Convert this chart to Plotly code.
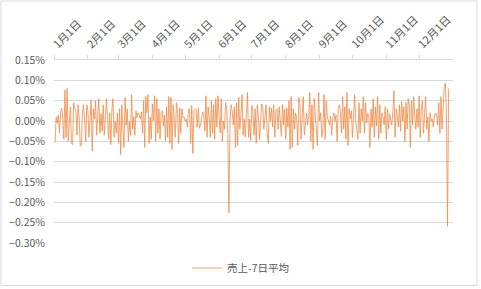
import pandas as pd
import plotly.graph_objects as go

# Daily deviation of sales from the 7-day average (in %), one list per month
jan = [-0.052, 0.010, -0.005, 0.015, -0.030, 0.020, 0.032, 0.005, -0.045, 0.076,
       -0.040, 0.080, -0.050, 0.000, 0.035, -0.055, -0.058, 0.045, 0.030, 0.028,
       -0.035, 0.040, 0.010, -0.062, -0.060, 0.020, 0.040, 0.005, -0.050, 0.040]
feb = [0.025, -0.040, 0.010, 0.052, -0.074, 0.030, 0.005, 0.050, -0.035, 0.012,
       0.055, -0.030, 0.018, -0.025, 0.040, -0.035, 0.010, 0.055, 0.005, -0.045,
       0.020, -0.058, 0.030, 0.055, -0.040, 0.000, -0.030, 0.020]
mar = [-0.055, 0.030, -0.082, 0.040, -0.020, -0.065, 0.058, -0.010, 0.030, -0.050,
       0.000, -0.035, 0.065, -0.020, 0.010, -0.035, 0.025, 0.008, 0.020, 0.015,
       0.005, 0.022, -0.030, 0.050, -0.065, 0.060, 0.020, 0.065, -0.055, 0.010, -0.045]
apr = [0.042, 0.000, 0.062, -0.050, 0.055, -0.030, 0.030, -0.045, 0.020, 0.025,
       -0.012, 0.015, -0.050, 0.035, -0.040, 0.060, -0.055, 0.058, -0.070, 0.040,
       0.005, -0.040, 0.045, 0.020, -0.055, 0.032, -0.030, 0.030, 0.008, 0.010]
may = [0.000, 0.005, -0.015, 0.028, 0.030, -0.055, 0.038, -0.080, 0.025, 0.030,
       0.028, -0.015, 0.032, -0.018, -0.010, 0.010, 0.022, 0.015, -0.025, 0.062,
       -0.040, 0.035, 0.010, -0.040, 0.050, -0.030, 0.040, -0.045, 0.055, -0.015, 0.062]
jun = [0.010, -0.030, 0.055, -0.050, 0.000, -0.020, 0.045, 0.030, -0.035, -0.226,
       0.000, 0.040, 0.025, -0.010, 0.035, -0.065, 0.045, -0.060, 0.058, -0.020,
       0.015, 0.065, -0.035, 0.005, -0.040, 0.035, 0.070, -0.040, 0.005, -0.048]
jul = [0.038, 0.020, -0.035, 0.030, -0.055, 0.040, 0.010, -0.045, 0.005, 0.042,
       0.035, -0.020, 0.010, 0.040, -0.030, -0.055, 0.035, 0.000, 0.032, -0.015,
       0.040, -0.040, 0.025, 0.030, -0.020, 0.035, 0.000, -0.038, 0.040, -0.010, 0.030]
aug = [-0.045, 0.032, -0.015, 0.050, -0.070, 0.060, -0.065, 0.030, -0.020, 0.020,
       0.008, -0.060, 0.058, 0.040, -0.045, 0.010, 0.060, -0.035, 0.005, 0.020,
       -0.010, 0.010, 0.070, -0.050, 0.040, -0.070, 0.055, 0.010, -0.030, -0.060, 0.070]
sep = [0.000, 0.020, -0.040, -0.020, 0.065, -0.045, 0.050, 0.010, 0.000, -0.010,
       0.012, -0.035, 0.008, 0.020, 0.000, 0.015, -0.050, 0.030, 0.040, 0.020,
       -0.030, 0.060, -0.020, 0.035, -0.045, 0.070, -0.060, 0.030, 0.005, 0.025]
oct_ = [-0.040, 0.015, 0.065, 0.000, -0.020, -0.045, 0.045, -0.030, 0.030, 0.000,
        0.060, -0.030, 0.045, -0.005, 0.018, 0.012, -0.065, 0.030, -0.015, 0.055,
        -0.040, 0.035, -0.012, 0.060, -0.045, 0.040, -0.030, 0.020, 0.010, -0.010, 0.035]
nov = [-0.045, 0.030, -0.020, 0.018, 0.005, -0.010, 0.025, 0.075, -0.040, 0.030,
       0.012, -0.015, 0.040, -0.025, 0.048, 0.000, 0.035, -0.050, 0.045, -0.020,
       0.055, 0.040, -0.065, 0.050, -0.010, 0.060, 0.015, -0.020, 0.030, -0.015]
dec = [0.062, -0.040, 0.030, 0.050, -0.030, 0.015, 0.060, -0.020, 0.010, -0.050,
       0.020, 0.000, 0.005, -0.015, 0.012, 0.020, 0.015, -0.010, 0.045, -0.030,
       0.060, -0.020, 0.040, 0.085, 0.093, 0.020, -0.259, 0.080]

months = [jan, feb, mar, apr, may, jun, jul, aug, sep, oct_, nov, dec]
first_day = [2, 1, 1, 1, 1, 1, 1, 1, 1, 1, 1, 1]
year = 2023

dates, values = [], []
for m, (vals, d0) in enumerate(zip(months, first_day), start=1):
    for i, v in enumerate(vals):
        dates.append(pd.Timestamp(year, m, d0 + i))
        values.append(v)

tick_dates = [pd.Timestamp(year, m, 1) for m in range(1, 13)]
tick_labels = [f"{m}月1日" for m in range(1, 13)]

FONT = "Noto Sans CJK JP"
GRAY = "#595959"
GRID = "#d9d9d9"

fig = go.Figure()
fig.add_trace(go.Scatter(
    x=dates, y=values, mode="lines", name="売上-7日平均",
    line=dict(color="#F08A48", width=0.8),
))

L, R, T, B = 54, 28, 60, 46
W, H = 481, 289
pw, ph = W - L - R, H - T - B

def px_x(p):
    return (p - L) / pw

def px_y(p):
    return (H - B - p) / ph

# outer chart border
fig.add_shape(type="rect", xref="paper", yref="paper",
              x0=px_x(1), x1=px_x(477), y0=px_y(285.5), y1=px_y(1),
              line=dict(color=GRID, width=1), fillcolor="rgba(0,0,0,0)")

fig.update_layout(
    width=W, height=H,
    margin=dict(l=L, r=R, t=T, b=B, autoexpand=False),
    paper_bgcolor="white", plot_bgcolor="white",
    font=dict(family=FONT, color=GRAY, size=10),
    showlegend=True,
    legend=dict(orientation="h", xref="container", yref="container",
                x=0.5, xanchor="center", y=1 - 268 / H, yanchor="middle",
                font=dict(size=10.5, color=GRAY), itemwidth=30),
    xaxis=dict(
        type="date", side="top", automargin=False,
        range=[pd.Timestamp(year, 1, 1), pd.Timestamp(year + 1, 1, 1)],
        tickvals=tick_dates, ticktext=tick_labels, tickangle=-45,
        ticks="outside", ticklen=4, tickcolor=GRID,
        showline=True, linecolor=GRID, linewidth=1,
        showgrid=False, zeroline=False,
        tickfont=dict(size=11, color=GRAY),
    ),
    yaxis=dict(
        range=[-0.30, 0.15], dtick=0.05, tick0=0, automargin=False,
        tickformat=".2f", ticksuffix="%",
        showgrid=True, gridcolor=GRID, gridwidth=1,
        zeroline=False, showline=False, ticks="",
        ticklabelstandoff=8,
        tickfont=dict(size=10.5, color=GRAY),
    ),
)

fig.write_html("out.html")
